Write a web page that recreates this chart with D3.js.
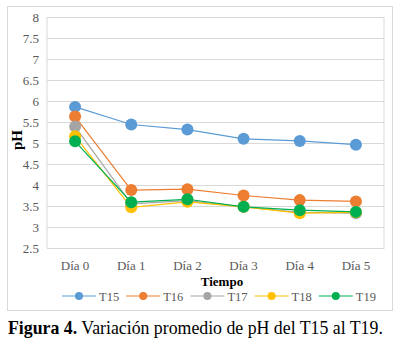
<!DOCTYPE html>
<html><head><meta charset="utf-8">
<script src="https://cdn.jsdelivr.net/npm/d3@7"></script>
<style>body{margin:0;background:#fff}svg{display:block}
svg text{font-family:"Liberation Serif","Times New Roman","DejaVu Serif",serif;}</style>
</head><body>
<svg id="c" width="400" height="342"></svg>
<script>
const categories = ["Día 0","Día 1","Día 2","Día 3","Día 4","Día 5"];
const seriesNames = ["T15","T16","T17","T18","T19"];
const T15 = [5.86,5.44,5.32,5.10,5.05,4.96];
const T16 = [5.63,3.88,3.90,3.75,3.64,3.61];
const T17 = [5.39,3.55,3.63,3.48,3.35,3.33];
const T18 = [5.16,3.47,3.60,3.48,3.33,3.35];
const T19 = [5.04,3.59,3.66,3.48,3.40,3.36];
const colors = ["#5b9bd5","#ed7d31","#a5a5a5","#ffc000","#00b050"];
const yTicks = [2.5,3,3.5,4,4.5,5,5.5,6,6.5,7,7.5,8];
const series = [T15,T16,T17,T18,T19];

const svg = d3.select("#c");
const L=47,R=384,T=17,B=248;
svg.append("rect").attr("x",7.5).attr("y",6.5).attr("width",385).attr("height",304)
  .attr("fill","#fff").attr("stroke","#d9d9d9");
const x = d3.scaleBand().domain(categories).range([L,R]);
const y = d3.scaleLinear().domain([2.5,8]).range([B,T]);

const ya = svg.append("g").attr("transform",`translate(${L},0)`)
  .call(d3.axisLeft(y).tickValues(yTicks).tickSize(-(R-L)).tickFormat(d3.format("")));
ya.attr("font-family",null);
ya.select(".domain").remove();
ya.selectAll(".tick line").attr("stroke","#d9d9d9");
ya.selectAll(".tick text").attr("x",-8).attr("fill","#595959").attr("font-size","13px");

svg.append("line").attr("x1",L).attr("x2",L).attr("y1",T).attr("y2",B).attr("stroke","#d9d9d9");
svg.append("line").attr("x1",R).attr("x2",R).attr("y1",T).attr("y2",B).attr("stroke","#d9d9d9");

const xa = svg.append("g").attr("transform",`translate(0,${B})`)
  .call(d3.axisBottom(x).tickSize(0));
xa.attr("font-family",null);
xa.select(".domain").attr("stroke","#d9d9d9");
xa.selectAll(".tick text").attr("y",13).attr("fill","#595959").attr("font-size","13px");

const line = d3.line().x((d,i)=>x(categories[i])+x.bandwidth()/2).y(d=>y(d));
series.forEach((s,k)=>{
  svg.append("path").datum(s).attr("d",line).attr("fill","none").attr("stroke",colors[k]).attr("stroke-width",1.2);
});
series.forEach((s,k)=>{
  svg.selectAll(null).data(s).enter().append("circle")
    .attr("cx",(d,i)=>x(categories[i])+x.bandwidth()/2).attr("cy",d=>y(d)).attr("r",6)
    .attr("fill",colors[k]);
});

svg.append("text").attr("x",222).attr("y",286).attr("text-anchor","middle")
  .attr("font-weight","bold").attr("font-size","13px").text("Tiempo");
svg.append("text").attr("transform","translate(22,140) rotate(-90)").attr("text-anchor","middle")
  .attr("font-weight","bold").attr("font-size","15px").text("pH");

const lg = svg.append("g");
seriesNames.forEach((n,k)=>{
  const x0 = 62 + k*64.2;
  lg.append("line").attr("x1",x0).attr("x2",x0+34).attr("y1",296).attr("y2",296).attr("stroke",colors[k]).attr("stroke-width",1.2);
  lg.append("circle").attr("cx",x0+17).attr("cy",296).attr("r",4).attr("fill",colors[k]);
  lg.append("text").attr("x",x0+37).attr("y",300.5).attr("fill","#595959")
    .attr("font-size","12.5px").text(n);
});

const cap = svg.append("text").attr("x",8).attr("y",334).attr("font-size","17.8px");
cap.append("tspan").attr("font-weight","bold").text("Figura 4.");
cap.append("tspan").text(" Variación promedio de pH del T15 al T19.");
</script>
</body></html>
